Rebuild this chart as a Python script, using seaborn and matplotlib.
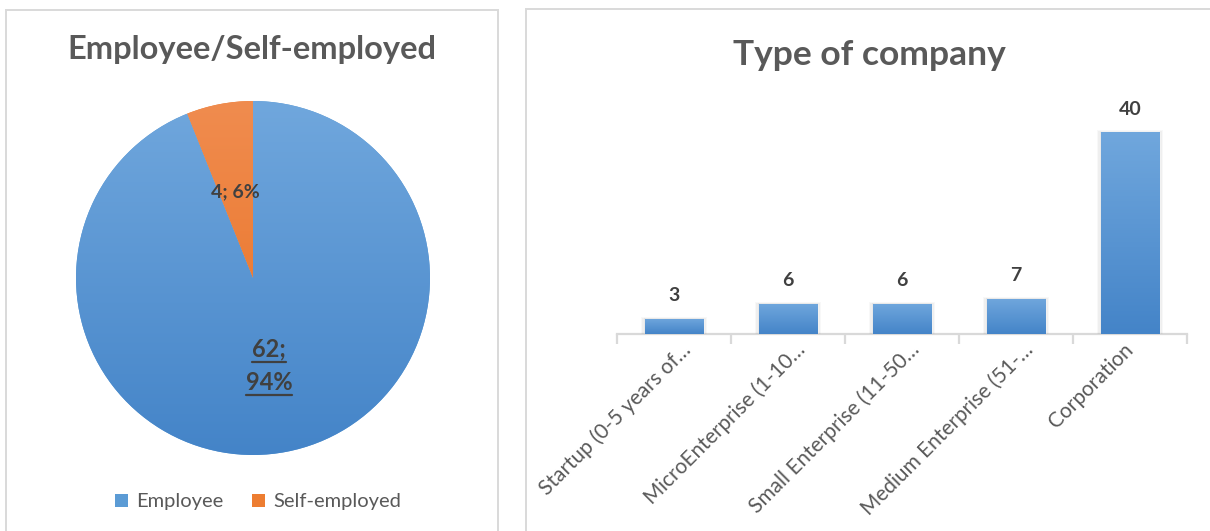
import numpy as np
import matplotlib
matplotlib.use("Agg")
import matplotlib.pyplot as plt
import matplotlib.transforms as mtransforms
import seaborn as sns
from matplotlib.colors import LinearSegmentedColormap
from matplotlib.patches import Rectangle
from matplotlib.lines import Line2D

# Survey answers: employment status
work_labels = ["Employee", "Self-employed"]
work_counts = [62, 4]
work_pct = [94, 6]

# Survey answers: type of company
company_types = [
    "Startup (0-5 years of\u2026",
    "MicroEnterprise (1-10\u2026",
    "Small Enterprise (11-50\u2026",
    "Medium Enterprise (51-\u2026",
    "Corporation",
]
company_counts = [3, 6, 6, 7, 40]

sns.set_theme(style="white")
plt.rcParams["font.family"] = ["Lato", "DejaVu Sans"]

W, H = 1210, 531
fig = plt.figure(figsize=(W / 100, H / 100), dpi=100)
fig.patch.set_facecolor("white")


def px_rect(x0, y0, x1, y1):
    """Pixel box (top-left origin) -> figure-fraction rect."""
    return [x0 / W, 1 - y1 / H, (x1 - x0) / W, (y1 - y0) / H]


def fx(x):
    return x / W


def fy(y):
    return 1 - y / H


TITLE_C = "#595959"
LABEL_C = "#404040"
GRID_C = "#D9D9D9"
blue_grad = LinearSegmentedColormap.from_list("blue_grad", ["#70A7DD", "#4484C8"])
orange_grad = LinearSegmentedColormap.from_list("orange_grad", ["#F08C4F", "#E86E1E"])
vgrad = np.linspace(0, 1, 256).reshape(-1, 1)

# Panel frames
for x0, y0, x1, y1 in [(6, 10, 498, 545), (526, 9, 1225, 545)]:
    fig.patches.append(Rectangle((fx(x0), fy(y1)), fx(x1 - x0), (y1 - y0) / H,
                                 transform=fig.transFigure, fill=False,
                                 edgecolor=GRID_C, linewidth=1.4, zorder=0))

# ---------- Pie: employee / self-employed ----------
fig.text(fx(252), fy(50), "Employee/Self-employed", ha="center", va="center",
         fontsize=23.5, fontweight="bold", color=TITLE_C)

axp = fig.add_axes(px_rect(76, 101, 430, 455))
wedges, _ = axp.pie(work_counts, startangle=90, counterclock=False,
                    colors=["#5B9BD5", "#ED7D31"], radius=1,
                    wedgeprops=dict(linewidth=0))
axp.set_xlim(-1, 1)
axp.set_ylim(-1, 1)
axp.set_aspect("equal")
axp.axis("off")
for w, cm in zip(wedges, [blue_grad, orange_grad]):
    img = axp.imshow(vgrad, extent=(-1, 1, -1, 1), cmap=cm, aspect="auto",
                     origin="upper", interpolation="bilinear", zorder=1)
    img.set_clip_path(w)

# slice labels
axp.text((235 - 253) / 177, (278 - 192) / 177,
         f"{work_counts[1]}; {work_pct[1]}%", ha="center", va="center",
         fontsize=14, fontweight="bold", color=LABEL_C, zorder=3)
t1 = axp.text((269 - 253) / 177, (278 - 349) / 177, f"{work_counts[0]};",
              ha="center", va="center", fontsize=17, fontweight="bold",
              color=LABEL_C, zorder=3)
t2 = axp.text((269 - 253) / 177, (278 - 382) / 177, f"{work_pct[0]}%",
              ha="center", va="center", fontsize=17, fontweight="bold",
              color=LABEL_C, zorder=3)

# legend
handles = [Rectangle((0, 0), 1, 1, facecolor=c, edgecolor="none")
           for c in ["#5B9BD5", "#ED7D31"]]
fig.legend(handles, work_labels, loc="center", bbox_to_anchor=(fx(258), fy(502)),
           ncol=2, frameon=False, fontsize=14.5, labelcolor=TITLE_C,
           handlelength=0.65, handleheight=0.65, handletextpad=0.4,
           columnspacing=1.4)

# ---------- Bars: type of company ----------
fig.text(fx(869), fy(55), "Type of company", ha="center", va="center",
         fontsize=25.5, fontweight="bold", color=TITLE_C)

axb = fig.add_axes(px_rect(617, 107, 1187, 334))
sns.barplot(x=company_types, y=company_counts, ax=axb, color="#5B9BD5",
            saturation=1, width=0.51, zorder=2)
axb.set_ylim(0, 45)
axb.set_xlim(-0.5, len(company_types) - 0.5)
axb.set_facecolor("none")
for s in ["top", "left", "right"]:
    axb.spines[s].set_visible(False)
axb.spines["bottom"].set_color(GRID_C)
axb.spines["bottom"].set_linewidth(1.6)
axb.spines["bottom"].set_zorder(1)
axb.set_yticks([])
axb.set_xlabel("")
axb.set_ylabel("")
axb.set_xticks(np.arange(-0.5, len(company_types), 1.0), minor=True)
axb.tick_params(axis="x", which="minor", length=7, width=1.6, color=GRID_C,
                direction="out", bottom=True)
axb.tick_params(axis="x", which="major", length=0, pad=9, bottom=True)
for lbl in axb.get_xticklabels():
    lbl.set_rotation(45)
    lbl.set_ha("right")
    lbl.set_va("center")
    lbl.set_rotation_mode("anchor")
    lbl.set_fontsize(15)
    lbl.set_color(TITLE_C)
    # truncated labels sit a little further right
    if lbl.get_text().endswith("\u2026"):
        lbl.set_transform(lbl.get_transform() + mtransforms.ScaledTranslation(
            0.14, 0, fig.dpi_scale_trans))
axb.grid(False)

for bar, val in zip(axb.patches, company_counts):
    x0, y0 = bar.get_x(), bar.get_y()
    bw, bh = bar.get_width(), bar.get_height()
    # soft side shadow
    for k, a in [(0.035, 0.05), (0.022, 0.07), (0.011, 0.09)]:
        axb.add_patch(Rectangle((x0 - k, y0), bw + 2 * k, bh + k * 10,
                                facecolor="#7F7F7F", alpha=a, edgecolor="none",
                                zorder=1.5))
    img = axb.imshow(vgrad, extent=(x0, x0 + bw, y0, y0 + bh), cmap=blue_grad,
                     aspect="auto", origin="upper", interpolation="bilinear",
                     zorder=2.5)
    img.set_clip_path(bar)
    axb.text(x0 + bw / 2, val + 4.6, f"{val}", ha="center", va="center",
             fontsize=14, fontweight="bold", color=LABEL_C)
axb.set_xlim(-0.5, len(company_types) - 0.5)
axb.set_ylim(0, 45)

# underline the large slice label
fig.canvas.draw()
r = fig.canvas.get_renderer()
for t in (t1, t2):
    bb = t.get_window_extent(renderer=r)
    yl = bb.y0 - 1
    fig.add_artist(Line2D([bb.x0 / W, bb.x1 / W], [yl / H, yl / H],
                          transform=fig.transFigure, color=LABEL_C, lw=1.6))

fig.savefig("out.png", dpi=100, facecolor="white")
